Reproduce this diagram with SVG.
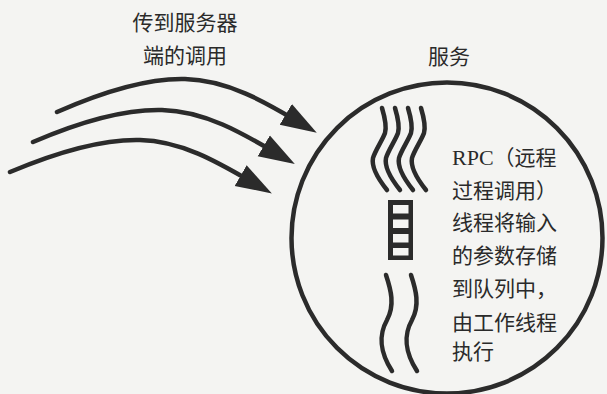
<svg xmlns="http://www.w3.org/2000/svg" width="607" height="394" viewBox="0 0 607 394">
  <style>
    .t { font-family: "Noto Sans CJK SC", "Noto Sans", sans-serif; font-size: 21px; fill: #2a2a2a; }
    .serif { font-family: "Liberation Serif", "Noto Sans CJK SC", serif; font-size: 22px; }
    .ink { fill: none; stroke: #2b2b2b; stroke-linecap: round; stroke-linejoin: round; }
    .arrow { stroke-width: 4.5; marker-end: url(#head); }
    .wave { stroke-width: 4.5; }
  </style>
  <defs>
    <marker id="head" markerUnits="userSpaceOnUse" markerWidth="40" markerHeight="28" viewBox="0 -14 40 28" refX="20" refY="0" orient="auto">
      <path d="M0,-12 L36,0 L0,12 Z" fill="#2b2b2b"/>
    </marker>
    <path id="wv" d="M0,0 C3,10 5,18 3,25 C1,31 -7,43 -9,50 C-11,60 -3,72 5,82"/>
  </defs>
  <rect x="0" y="0" width="607" height="394" fill="#f4f4f2"/>

  <g id="label-calls">
    <text class="t" x="185" y="30" text-anchor="middle">传到服务器</text>
    <text class="t" x="185" y="63" text-anchor="middle">端的调用</text>
  </g>

  <g id="connectors">
    <path class="ink arrow" d="M57,112 C100,93 145,78 185,79 C230,80 270,105 303,124.5"/>
    <path class="ink arrow" d="M33,142 C77,123 122,109 162,110 C207,111 247,136 281,156"/>
    <path class="ink arrow" d="M10,172 C55,153 100,139 140,140 C185,141 224,166 258,185.5"/>
  </g>

  <g id="service">
    <text class="t" x="449" y="64" text-anchor="middle">服务</text>
    <circle cx="447" cy="238" r="155.5" fill="none" stroke="#2b2b2b" stroke-width="4.5"/>
  </g>

  <g id="incoming-threads">
    <use href="#wv" class="ink wave" x="382" y="108"/>
    <use href="#wv" class="ink wave" x="395" y="108"/>
    <use href="#wv" class="ink wave" x="408" y="108"/>
    <use href="#wv" class="ink wave" x="421" y="108"/>
  </g>

  <g id="queue">
    <rect x="388" y="200" width="25" height="60" fill="#2b2b2b"/>
    <rect x="393" y="205" width="15.5" height="8.5" fill="#f4f4f2"/>
    <rect x="393" y="219.5" width="15.5" height="8.5" fill="#f4f4f2"/>
    <rect x="393" y="234" width="15.5" height="8.5" fill="#f4f4f2"/>
    <rect x="393" y="248" width="15.5" height="7.5" fill="#f4f4f2"/>
  </g>

  <g id="worker-threads">
    <path class="ink wave" d="M386,275 C391,290 395,305 387,320 C378,336 380,352 392,371"/>
    <path class="ink wave" d="M411,275 C416,290 420,305 412,320 C403,336 405,352 417,371"/>
  </g>

  <g id="description">
    <text class="t" x="452" y="165"><tspan class="serif">RPC</tspan>（远程</text>
    <text class="t" x="452" y="198">过程调用）</text>
    <text class="t" x="452" y="230">线程将输入</text>
    <text class="t" x="452" y="263">的参数存储</text>
    <text class="t" x="452" y="296">到队列中，</text>
    <text class="t" x="452" y="330">由工作线程</text>
    <text class="t" x="452" y="359">执行</text>
  </g>
</svg>
